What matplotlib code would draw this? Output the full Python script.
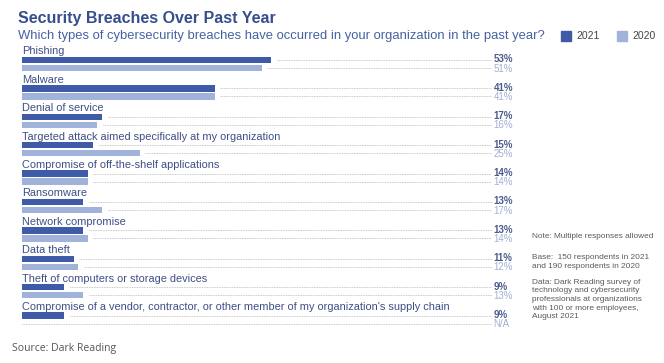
import matplotlib.pyplot as plt
from matplotlib.patches import Rectangle

plt.rcParams['font.family'] = ['Liberation Sans', 'DejaVu Sans']

categories = [
    "Phishing",
    "Malware",
    "Denial of service",
    "Targeted attack aimed specifically at my organization",
    "Compromise of off-the-shelf applications",
    "Ransomware",
    "Network compromise",
    "Data theft",
    "Theft of computers or storage devices",
    "Compromise of a vendor, contractor, or other member of my organization's supply chain",
]
vals_2021 = [53, 41, 17, 15, 14, 13, 13, 11, 9, 9]
vals_2020 = [51, 41, 16, 25, 14, 17, 14, 12, 13, None]  # last one N/A

dark = '#3f5aa6'
light = '#a2b3db'
title_col = '#344f8c'
label_col = '#3e4f85'
dot_col = '#b5b5b5'

W, H = 664, 363
fig = plt.figure(figsize=(W / 100, H / 100), dpi=100)

# bar area: x in percent, y in pixels (top-down)
top_px, bot_px = 40, 340
ax = fig.add_axes([22 / W, 1 - bot_px / H, 470 / W, (bot_px - top_px) / H])
ax.set_xlim(0, 100)
ax.set_ylim(bot_px, top_px)
ax.axis('off')

row_h = 28.4
bar_h = 6.5
for i, (cat, v1, v0) in enumerate(zip(categories, vals_2021, vals_2020)):
    y1 = 60 + row_h * i
    y0 = y1 + 8
    ax.text(0, y1 - 8.5, cat, fontsize=7.9, color=label_col, va='center', ha='left')
    ax.barh(y1, v1, height=bar_h, color=dark, left=0)
    ax.plot([v1 + 1.2, 100], [y1, y1], linestyle=(0, (1, 1)), color=dot_col, lw=0.6)
    ax.text(100.3, y1 - 0.5, f"{v1}%", fontsize=7, color='#4c5b8c', fontweight='bold',
            va='center', ha='left', clip_on=False)
    if v0 is not None:
        ax.barh(y0, v0, height=bar_h, color=light, left=0)
        ax.plot([v0 + 1.2, 100], [y0, y0], linestyle=(0, (1, 1)), color=dot_col, lw=0.6)
        txt = f"{v0}%"
    else:
        ax.plot([0, 100], [y0, y0], linestyle=(0, (1, 1)), color=dot_col, lw=0.6)
        txt = "N/A"
    ax.text(100.3, y0 + 0.5, txt, fontsize=7, color='#a3b0d2', va='center', ha='left',
            clip_on=False)

# titles
fig.text(18 / W, 1 - 18 / H, "Security Breaches Over Past Year", fontsize=11.5,
         fontweight='bold', color=title_col, va='center', ha='left')
fig.text(18 / W, 1 - 36 / H,
         "Which types of cybersecurity breaches have occurred in your organization in the past year?",
         fontsize=9.35, color='#4661a3', va='center', ha='left')

# legend
for x0, col, lab in [(561, dark, "2021"), (617, light, "2020")]:
    fig.patches.append(Rectangle((x0 / W, 1 - 41 / H), 10 / W, 10 / H, color=col,
                                 transform=fig.transFigure, figure=fig))
    fig.text((x0 + 15) / W, 1 - 36 / H, lab, fontsize=7.5, color='#444444',
             va='center', ha='left')

# notes
note_col = '#5a5a5a'
fs_note = 5.95
fig.text(532 / W, 1 - 237 / H, "Note: Multiple responses allowed", fontsize=fs_note,
         color=note_col, va='center', ha='left')
fig.text(532 / W, 1 - 254 / H, "Base:  150 respondents in 2021\nand 190 respondents in 2020",
         fontsize=fs_note, color=note_col, va='top', ha='left', linespacing=1.3)
fig.text(532 / W, 1 - 279 / H,
         "Data: Dark Reading survey of\ntechnology and cybersecurity\nprofessionals at organizations\nwith 100 or more employees,\nAugust 2021",
         fontsize=fs_note, color=note_col, va='top', ha='left', linespacing=1.3)

fig.text(12 / W, 1 - 349 / H, "Source: Dark Reading", fontsize=7.5, color='#555555',
         va='center', ha='left', family=['Open Sans', 'DejaVu Sans'])

fig.savefig('out.png', dpi=100, facecolor='white')
